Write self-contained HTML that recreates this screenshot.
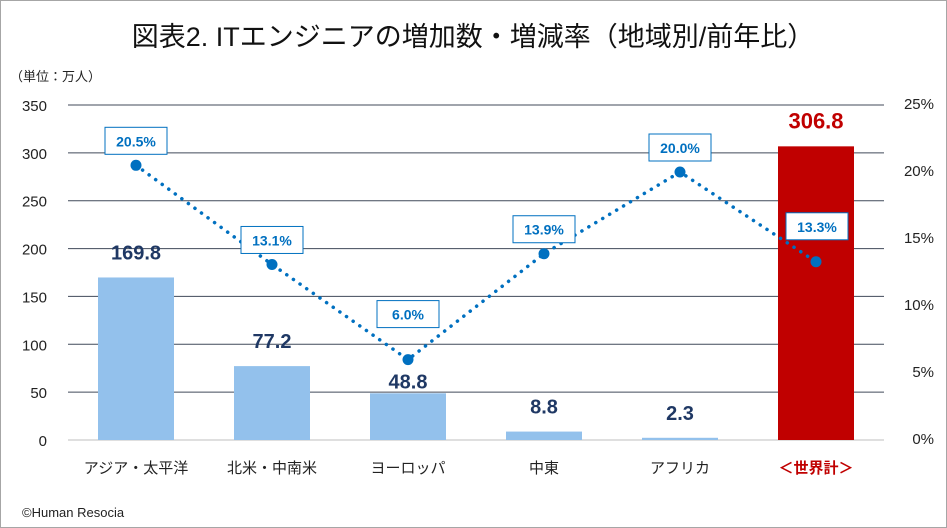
<!DOCTYPE html>
<html><head><meta charset="utf-8"><style>
body{margin:0;background:#fff;}
svg{display:block;font-family:"Liberation Sans","Noto Sans CJK JP",sans-serif;}
</style></head><body>
<svg id="c" width="947" height="528">
<rect x="0.5" y="0.5" width="946" height="527" fill="#fff" stroke="#a6a6a6"/>
<text x="473" y="46" font-size="27" text-anchor="middle" fill="#111">図表2. ITエンジニアの増加数・増減率（地域別/前年比）</text>
<text x="10" y="81" font-size="13" fill="#222">（単位：万人）</text>
<g id="grid"></g><g id="bars"></g><g id="line"></g><g id="labels"></g>
<text x="22" y="517" font-size="13" fill="#222">©Human Resocia</text>
</svg>
<script>
const categories=["アジア・太平洋","北米・中南米","ヨーロッパ","中東","アフリカ","＜世界計＞"];
const increase=[169.8,77.2,48.8,8.8,2.3,306.8];
const rate=[20.5,13.1,6.0,13.9,20.0,13.3];
const leftTicks=[0,50,100,150,200,250,300,350];
const rightTicks=[0,5,10,15,20,25];
const NS="http://www.w3.org/2000/svg";
const X0=68,X1=884,Y0=440,Y1=105;
const band=(X1-X0)/categories.length;
const xc=i=>X0+band*(i+0.5);
const yL=v=>Y0-(v/350)*(Y0-Y1);
const yR=v=>Y0-(v/25)*(Y0-Y1);
function mk(t,a,p){const e=document.createElementNS(NS,t);for(const k in a)e.setAttribute(k,a[k]);p.appendChild(e);return e;}
const g=document.getElementById('grid'),gb=document.getElementById('bars'),gl=document.getElementById('line'),gt=document.getElementById('labels');
leftTicks.forEach(v=>{
 const l=mk('line',{x1:X0,x2:X1,y1:yL(v),y2:yL(v),stroke:v===0?'#bfbfbf':'#404a5a','stroke-width':1},g);
 
 
 const t=mk('text',{x:47,y:yL(v)+6,'font-size':15,'text-anchor':'end',fill:'#222'},g);t.textContent=v;
 
 
});
rightTicks.forEach(v=>{
 const t=mk('text',{x:934,y:yR(v)+4,'font-size':15,'text-anchor':'end',fill:'#222'},g);t.textContent=v+'%';
 
 
});
const bw=76;
categories.forEach((c,i)=>{
 const last=i===categories.length-1;
 const r=mk('rect',{x:xc(i)-bw/2,y:yL(increase[i]),width:bw,height:Y0-yL(increase[i]),fill:last?'#c00000':'#93c1ec'},gb);
 
 
 const off=i===2?5:18;
 const v=mk('text',{x:xc(i),y:yL(increase[i])-off,'font-size':last?22:20,'font-weight':'bold','text-anchor':'middle',fill:last?'#c00000':'#1f3864'},gt);
 v.textContent=increase[i].toFixed(1);
 
 
 const cl=mk('text',{x:xc(i),y:473,'font-size':15,'text-anchor':'middle',fill:last?'#c00000':'#222','font-weight':last?'bold':'normal'},gt);
 cl.textContent=c;
 
 
});
const pts=rate.map((r,i)=>xc(i)+','+yR(r)).join(' ');
const pl=mk('polyline',{points:pts,fill:'none',stroke:'#0070c0','stroke-width':3.5,'stroke-dasharray':'0.1 8','stroke-linecap':'round'},gl);


rate.forEach((r,i)=>{
 const d=mk('circle',{cx:xc(i),cy:yR(r),r:5.5,fill:'#0070c0'},gl);
 
 
 const last=i===rate.length-1;
 const up=last?49:(i===2?59:38);
 const bx=xc(i)+(last?1:0),by=yR(r)-up;
 const b=mk('rect',{x:bx-31,y:by,width:62,height:27,fill:'#fff',stroke:'#0070c0','stroke-width':1},gt);
 
 
 const t=mk('text',{x:bx,y:by+19,'font-size':14,'font-weight':'bold','text-anchor':'middle',fill:'#0070c0'},gt);
 t.textContent=r.toFixed(1)+'%';
 
 
});
</script>
</body></html>
